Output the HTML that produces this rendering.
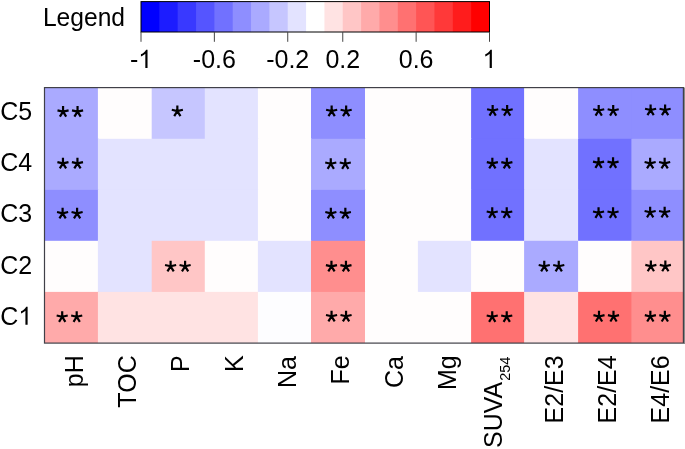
<!DOCTYPE html>
<html><head><meta charset="utf-8"><style>
html,body{margin:0;padding:0;background:#fff;overflow:hidden;}
svg{display:block;will-change:transform;font-family:"Liberation Sans",sans-serif;}
</style></head><body>
<svg width="685" height="449" viewBox="0 0 685 449">
<rect width="685" height="449" fill="#fff"/>

<text transform="translate(42.9,25.8) scale(0.973,1)" font-size="25.3">Legend</text>
<rect x="141.00" y="1.6" width="19.34" height="30.4" fill="#0000FF"/>
<rect x="159.34" y="1.6" width="19.34" height="30.4" fill="#1C1CFF"/>
<rect x="177.68" y="1.6" width="19.34" height="30.4" fill="#3939FF"/>
<rect x="196.03" y="1.6" width="19.34" height="30.4" fill="#5555FF"/>
<rect x="214.37" y="1.6" width="19.34" height="30.4" fill="#7171FF"/>
<rect x="232.71" y="1.6" width="19.34" height="30.4" fill="#8E8EFF"/>
<rect x="251.05" y="1.6" width="19.34" height="30.4" fill="#AAAAFF"/>
<rect x="269.39" y="1.6" width="19.34" height="30.4" fill="#C6C6FF"/>
<rect x="287.74" y="1.6" width="19.34" height="30.4" fill="#E3E3FF"/>
<rect x="306.08" y="1.6" width="19.34" height="30.4" fill="#FFFFFF"/>
<rect x="324.42" y="1.6" width="19.34" height="30.4" fill="#FFE3E3"/>
<rect x="342.76" y="1.6" width="19.34" height="30.4" fill="#FFC6C6"/>
<rect x="361.11" y="1.6" width="19.34" height="30.4" fill="#FFAAAA"/>
<rect x="379.45" y="1.6" width="19.34" height="30.4" fill="#FF8E8E"/>
<rect x="397.79" y="1.6" width="19.34" height="30.4" fill="#FF7171"/>
<rect x="416.13" y="1.6" width="19.34" height="30.4" fill="#FF5555"/>
<rect x="434.47" y="1.6" width="19.34" height="30.4" fill="#FF3939"/>
<rect x="452.82" y="1.6" width="19.34" height="30.4" fill="#FF1C1C"/>
<rect x="471.16" y="1.6" width="18.34" height="30.4" fill="#FF0000"/>
<rect x="141.0" y="1.6" width="348.5" height="30.4" fill="none" stroke="#000" stroke-width="1"/>
<g transform="translate(0,67.95) scale(1,1.03) translate(0,-67.95)">
<text x="129.89" y="67.95" font-size="25">-</text>
<path d="M147.53 67.95L145.33 67.95L145.33 54.16C144.80 54.65 144.11 55.16 143.25 55.65C142.39 56.14 141.62 56.52 140.93 56.77L140.93 54.68C142.17 54.11 143.24 53.41 144.16 52.61C145.07 51.80 145.72 51.01 146.10 50.25L147.53 50.25Z" fill="#000"/>
<text x="214.37" y="67.95" font-size="25" text-anchor="middle">-0.6</text>
<text x="287.74" y="67.95" font-size="25" text-anchor="middle">-0.2</text>
<text x="342.76" y="67.95" font-size="25" text-anchor="middle">0.2</text>
<text x="416.13" y="67.95" font-size="25" text-anchor="middle">0.6</text>
<path d="M491.86 67.95L489.67 67.95L489.67 54.16C489.14 54.65 488.45 55.16 487.59 55.65C486.72 56.14 485.96 56.52 485.27 56.77L485.27 54.68C486.51 54.11 487.58 53.41 488.49 52.61C489.41 51.80 490.06 51.01 490.44 50.25L491.86 50.25Z" fill="#000"/>
</g>
<line x1="141.00" y1="32.0" x2="141.00" y2="41.8" stroke="#444" stroke-width="1"/>
<line x1="214.37" y1="32.0" x2="214.37" y2="41.8" stroke="#444" stroke-width="1"/>
<line x1="287.74" y1="32.0" x2="287.74" y2="41.8" stroke="#444" stroke-width="1"/>
<line x1="342.76" y1="32.0" x2="342.76" y2="41.8" stroke="#444" stroke-width="1"/>
<line x1="416.13" y1="32.0" x2="416.13" y2="41.8" stroke="#444" stroke-width="1"/>
<line x1="489.50" y1="32.0" x2="489.50" y2="41.8" stroke="#444" stroke-width="1"/>
<rect x="45.00" y="88.00" width="53.90" height="51.80" fill="#AAAAFF"/>
<rect x="97.90" y="88.00" width="54.80" height="51.80" fill="#FFFDFD"/>
<rect x="151.70" y="88.00" width="54.10" height="51.80" fill="#C6C6FF"/>
<rect x="204.80" y="88.00" width="54.10" height="51.80" fill="#E3E3FF"/>
<rect x="257.90" y="88.00" width="54.10" height="51.80" fill="#FFFDFD"/>
<rect x="311.00" y="88.00" width="55.00" height="51.80" fill="#8E8EFF"/>
<rect x="365.00" y="88.00" width="53.90" height="51.80" fill="#FFFDFD"/>
<rect x="417.90" y="88.00" width="54.20" height="51.80" fill="#FFFDFD"/>
<rect x="471.10" y="88.00" width="54.00" height="51.80" fill="#7171FF"/>
<rect x="524.10" y="88.00" width="55.00" height="51.80" fill="#FFFDFD"/>
<rect x="578.10" y="88.00" width="54.30" height="51.80" fill="#8E8EFF"/>
<rect x="631.40" y="88.00" width="51.60" height="51.80" fill="#8E8EFF"/>
<rect x="45.00" y="138.80" width="53.90" height="52.10" fill="#AAAAFF"/>
<rect x="97.90" y="138.80" width="54.80" height="52.10" fill="#E3E3FF"/>
<rect x="151.70" y="138.80" width="54.10" height="52.10" fill="#E3E3FF"/>
<rect x="204.80" y="138.80" width="54.10" height="52.10" fill="#E3E3FF"/>
<rect x="257.90" y="138.80" width="54.10" height="52.10" fill="#FFFDFD"/>
<rect x="311.00" y="138.80" width="55.00" height="52.10" fill="#AAAAFF"/>
<rect x="365.00" y="138.80" width="53.90" height="52.10" fill="#FFFDFD"/>
<rect x="417.90" y="138.80" width="54.20" height="52.10" fill="#FFFDFD"/>
<rect x="471.10" y="138.80" width="54.00" height="52.10" fill="#7171FF"/>
<rect x="524.10" y="138.80" width="55.00" height="52.10" fill="#E3E3FF"/>
<rect x="578.10" y="138.80" width="54.30" height="52.10" fill="#7171FF"/>
<rect x="631.40" y="138.80" width="51.60" height="52.10" fill="#AAAAFF"/>
<rect x="45.00" y="189.90" width="53.90" height="51.90" fill="#8E8EFF"/>
<rect x="97.90" y="189.90" width="54.80" height="51.90" fill="#E3E3FF"/>
<rect x="151.70" y="189.90" width="54.10" height="51.90" fill="#E3E3FF"/>
<rect x="204.80" y="189.90" width="54.10" height="51.90" fill="#E3E3FF"/>
<rect x="257.90" y="189.90" width="54.10" height="51.90" fill="#FFFDFD"/>
<rect x="311.00" y="189.90" width="55.00" height="51.90" fill="#8E8EFF"/>
<rect x="365.00" y="189.90" width="53.90" height="51.90" fill="#FFFDFD"/>
<rect x="417.90" y="189.90" width="54.20" height="51.90" fill="#FFFDFD"/>
<rect x="471.10" y="189.90" width="54.00" height="51.90" fill="#7171FF"/>
<rect x="524.10" y="189.90" width="55.00" height="51.90" fill="#E3E3FF"/>
<rect x="578.10" y="189.90" width="54.30" height="51.90" fill="#7171FF"/>
<rect x="631.40" y="189.90" width="51.60" height="51.90" fill="#8E8EFF"/>
<rect x="45.00" y="240.80" width="53.90" height="52.10" fill="#FFFDFD"/>
<rect x="97.90" y="240.80" width="54.80" height="52.10" fill="#E3E3FF"/>
<rect x="151.70" y="240.80" width="54.10" height="52.10" fill="#FFC6C6"/>
<rect x="204.80" y="240.80" width="54.10" height="52.10" fill="#FFFDFD"/>
<rect x="257.90" y="240.80" width="54.10" height="52.10" fill="#E3E3FF"/>
<rect x="311.00" y="240.80" width="55.00" height="52.10" fill="#FF8E8E"/>
<rect x="365.00" y="240.80" width="53.90" height="52.10" fill="#FFFDFD"/>
<rect x="417.90" y="240.80" width="54.20" height="52.10" fill="#E3E3FF"/>
<rect x="471.10" y="240.80" width="54.00" height="52.10" fill="#FFFDFD"/>
<rect x="524.10" y="240.80" width="55.00" height="52.10" fill="#AAAAFF"/>
<rect x="578.10" y="240.80" width="54.30" height="52.10" fill="#FFFDFD"/>
<rect x="631.40" y="240.80" width="51.60" height="52.10" fill="#FFC6C6"/>
<rect x="45.00" y="291.90" width="53.90" height="51.10" fill="#FFAAAA"/>
<rect x="97.90" y="291.90" width="54.80" height="51.10" fill="#FFE3E3"/>
<rect x="151.70" y="291.90" width="54.10" height="51.10" fill="#FFE3E3"/>
<rect x="204.80" y="291.90" width="54.10" height="51.10" fill="#FFE3E3"/>
<rect x="257.90" y="291.90" width="54.10" height="51.10" fill="#FDFDFF"/>
<rect x="311.00" y="291.90" width="55.00" height="51.10" fill="#FFAAAA"/>
<rect x="365.00" y="291.90" width="53.90" height="51.10" fill="#FFFDFD"/>
<rect x="417.90" y="291.90" width="54.20" height="51.10" fill="#FFFDFD"/>
<rect x="471.10" y="291.90" width="54.00" height="51.10" fill="#FF7171"/>
<rect x="524.10" y="291.90" width="55.00" height="51.10" fill="#FFE3E3"/>
<rect x="578.10" y="291.90" width="54.30" height="51.10" fill="#FF7171"/>
<rect x="631.40" y="291.90" width="51.60" height="51.10" fill="#FF8E8E"/>
<g stroke="#000" stroke-width="2.2" fill="none"><path d="M63.05 111.60L63.05 106.00M63.05 111.60L68.60 110.32M63.05 111.60L57.50 110.32M63.05 111.60L66.20 116.65M63.05 111.60L59.90 116.65"/><path d="M77.55 111.60L77.55 106.00M77.55 111.60L83.10 110.32M77.55 111.60L72.00 110.32M77.55 111.60L80.70 116.65M77.55 111.60L74.40 116.65"/><path d="M177.35 111.08L177.35 105.48M177.35 111.08L182.90 109.80M177.35 111.08L171.80 109.80M177.35 111.08L180.50 116.13M177.35 111.08L174.20 116.13"/><path d="M331.65 111.05L331.65 105.45M331.65 111.05L337.20 109.77M331.65 111.05L326.10 109.77M331.65 111.05L334.80 116.10M331.65 111.05L328.50 116.10"/><path d="M346.15 111.05L346.15 105.45M346.15 111.05L351.70 109.77M346.15 111.05L340.60 109.77M346.15 111.05L349.30 116.10M346.15 111.05L343.00 116.10"/><path d="M492.65 110.50L492.65 104.90M492.65 110.50L498.20 109.22M492.65 110.50L487.10 109.22M492.65 110.50L495.80 115.55M492.65 110.50L489.50 115.55"/><path d="M507.15 110.50L507.15 104.90M507.15 110.50L512.70 109.22M507.15 110.50L501.60 109.22M507.15 110.50L510.30 115.55M507.15 110.50L504.00 115.55"/><path d="M598.70 110.50L598.70 104.90M598.70 110.50L604.25 109.22M598.70 110.50L593.15 109.22M598.70 110.50L601.85 115.55M598.70 110.50L595.55 115.55"/><path d="M613.20 110.50L613.20 104.90M613.20 110.50L618.75 109.22M613.20 110.50L607.65 109.22M613.20 110.50L616.35 115.55M613.20 110.50L610.05 115.55"/><path d="M650.60 110.05L650.60 104.45M650.60 110.05L656.15 108.77M650.60 110.05L645.05 108.77M650.60 110.05L653.75 115.10M650.60 110.05L647.45 115.10"/><path d="M665.10 110.05L665.10 104.45M665.10 110.05L670.65 108.77M665.10 110.05L659.55 108.77M665.10 110.05L668.25 115.10M665.10 110.05L661.95 115.10"/><path d="M62.95 163.35L62.95 157.75M62.95 163.35L68.50 162.07M62.95 163.35L57.40 162.07M62.95 163.35L66.10 168.40M62.95 163.35L59.80 168.40"/><path d="M77.45 163.35L77.45 157.75M77.45 163.35L83.00 162.07M77.45 163.35L71.90 162.07M77.45 163.35L80.60 168.40M77.45 163.35L74.30 168.40"/><path d="M330.77 163.75L330.77 158.15M330.77 163.75L336.32 162.47M330.77 163.75L325.22 162.47M330.77 163.75L333.92 168.80M330.77 163.75L327.62 168.80"/><path d="M345.27 163.75L345.27 158.15M345.27 163.75L350.82 162.47M345.27 163.75L339.72 162.47M345.27 163.75L348.42 168.80M345.27 163.75L342.12 168.80"/><path d="M492.35 163.35L492.35 157.75M492.35 163.35L497.90 162.07M492.35 163.35L486.80 162.07M492.35 163.35L495.50 168.40M492.35 163.35L489.20 168.40"/><path d="M506.85 163.35L506.85 157.75M506.85 163.35L512.40 162.07M506.85 163.35L501.30 162.07M506.85 163.35L510.00 168.40M506.85 163.35L503.70 168.40"/><path d="M598.55 162.85L598.55 157.25M598.55 162.85L604.10 161.57M598.55 162.85L593.00 161.57M598.55 162.85L601.70 167.90M598.55 162.85L595.40 167.90"/><path d="M613.05 162.85L613.05 157.25M613.05 162.85L618.60 161.57M613.05 162.85L607.50 161.57M613.05 162.85L616.20 167.90M613.05 162.85L609.90 167.90"/><path d="M650.15 163.33L650.15 157.73M650.15 163.33L655.70 162.05M650.15 163.33L644.60 162.05M650.15 163.33L653.30 168.38M650.15 163.33L647.00 168.38"/><path d="M664.65 163.33L664.65 157.73M664.65 163.33L670.20 162.05M664.65 163.33L659.10 162.05M664.65 163.33L667.80 168.38M664.65 163.33L661.50 168.38"/><path d="M62.60 213.33L62.60 207.73M62.60 213.33L68.15 212.05M62.60 213.33L57.05 212.05M62.60 213.33L65.75 218.38M62.60 213.33L59.45 218.38"/><path d="M77.10 213.33L77.10 207.73M77.10 213.33L82.65 212.05M77.10 213.33L71.55 212.05M77.10 213.33L80.25 218.38M77.10 213.33L73.95 218.38"/><path d="M330.85 213.33L330.85 207.73M330.85 213.33L336.40 212.05M330.85 213.33L325.30 212.05M330.85 213.33L334.00 218.38M330.85 213.33L327.70 218.38"/><path d="M345.35 213.33L345.35 207.73M345.35 213.33L350.90 212.05M345.35 213.33L339.80 212.05M345.35 213.33L348.50 218.38M345.35 213.33L342.20 218.38"/><path d="M492.23 212.75L492.23 207.15M492.23 212.75L497.78 211.47M492.23 212.75L486.68 211.47M492.23 212.75L495.38 217.80M492.23 212.75L489.08 217.80"/><path d="M506.73 212.75L506.73 207.15M506.73 212.75L512.28 211.47M506.73 212.75L501.18 211.47M506.73 212.75L509.88 217.80M506.73 212.75L503.58 217.80"/><path d="M598.55 212.75L598.55 207.15M598.55 212.75L604.10 211.47M598.55 212.75L593.00 211.47M598.55 212.75L601.70 217.80M598.55 212.75L595.40 217.80"/><path d="M613.05 212.75L613.05 207.15M613.05 212.75L618.60 211.47M613.05 212.75L607.50 211.47M613.05 212.75L616.20 217.80M613.05 212.75L609.90 217.80"/><path d="M650.15 212.25L650.15 206.65M650.15 212.25L655.70 210.97M650.15 212.25L644.60 210.97M650.15 212.25L653.30 217.30M650.15 212.25L647.00 217.30"/><path d="M664.65 212.25L664.65 206.65M664.65 212.25L670.20 210.97M664.65 212.25L659.10 210.97M664.65 212.25L667.80 217.30M664.65 212.25L661.50 217.30"/><path d="M170.60 266.30L170.60 260.70M170.60 266.30L176.15 265.02M170.60 266.30L165.05 265.02M170.60 266.30L173.75 271.35M170.60 266.30L167.45 271.35"/><path d="M185.10 266.30L185.10 260.70M185.10 266.30L190.65 265.02M185.10 266.30L179.55 265.02M185.10 266.30L188.25 271.35M185.10 266.30L181.95 271.35"/><path d="M331.45 266.35L331.45 260.75M331.45 266.35L337.00 265.07M331.45 266.35L325.90 265.07M331.45 266.35L334.60 271.40M331.45 266.35L328.30 271.40"/><path d="M345.95 266.35L345.95 260.75M345.95 266.35L351.50 265.07M345.95 266.35L340.40 265.07M345.95 266.35L349.10 271.40M345.95 266.35L342.80 271.40"/><path d="M544.25 266.30L544.25 260.70M544.25 266.30L549.80 265.02M544.25 266.30L538.70 265.02M544.25 266.30L547.40 271.35M544.25 266.30L541.10 271.35"/><path d="M558.75 266.30L558.75 260.70M558.75 266.30L564.30 265.02M558.75 266.30L553.20 265.02M558.75 266.30L561.90 271.35M558.75 266.30L555.60 271.35"/><path d="M650.85 266.20L650.85 260.60M650.85 266.20L656.40 264.92M650.85 266.20L645.30 264.92M650.85 266.20L654.00 271.25M650.85 266.20L647.70 271.25"/><path d="M665.35 266.20L665.35 260.60M665.35 266.20L670.90 264.92M665.35 266.20L659.80 264.92M665.35 266.20L668.50 271.25M665.35 266.20L662.20 271.25"/><path d="M62.20 316.75L62.20 311.15M62.20 316.75L67.75 315.47M62.20 316.75L56.65 315.47M62.20 316.75L65.35 321.80M62.20 316.75L59.05 321.80"/><path d="M76.70 316.75L76.70 311.15M76.70 316.75L82.25 315.47M76.70 316.75L71.15 315.47M76.70 316.75L79.85 321.80M76.70 316.75L73.55 321.80"/><path d="M331.55 316.30L331.55 310.70M331.55 316.30L337.10 315.02M331.55 316.30L326.00 315.02M331.55 316.30L334.70 321.35M331.55 316.30L328.40 321.35"/><path d="M346.05 316.30L346.05 310.70M346.05 316.30L351.60 315.02M346.05 316.30L340.50 315.02M346.05 316.30L349.20 321.35M346.05 316.30L342.90 321.35"/><path d="M492.23 316.75L492.23 311.15M492.23 316.75L497.78 315.47M492.23 316.75L486.68 315.47M492.23 316.75L495.38 321.80M492.23 316.75L489.08 321.80"/><path d="M506.73 316.75L506.73 311.15M506.73 316.75L512.28 315.47M506.73 316.75L501.18 315.47M506.73 316.75L509.88 321.80M506.73 316.75L503.58 321.80"/><path d="M599.00 316.45L599.00 310.85M599.00 316.45L604.55 315.17M599.00 316.45L593.45 315.17M599.00 316.45L602.15 321.50M599.00 316.45L595.85 321.50"/><path d="M613.50 316.45L613.50 310.85M613.50 316.45L619.05 315.17M613.50 316.45L607.95 315.17M613.50 316.45L616.65 321.50M613.50 316.45L610.35 321.50"/><path d="M650.35 316.45L650.35 310.85M650.35 316.45L655.90 315.17M650.35 316.45L644.80 315.17M650.35 316.45L653.50 321.50M650.35 316.45L647.20 321.50"/><path d="M664.85 316.45L664.85 310.85M664.85 316.45L670.40 315.17M664.85 316.45L659.30 315.17M664.85 316.45L668.00 321.50M664.85 316.45L661.70 321.50"/></g>
<rect x="44.5" y="87.6" width="638.90" height="255.50" fill="none" stroke="#404048" stroke-width="1.2"/>
<line x1="684.5" y1="87.5" x2="684.5" y2="344.0" stroke="#888" stroke-width="1"/>
<g transform="translate(0,119.80) scale(1,1.025) translate(0,-119.80)">
<text x="32.2" y="119.80" font-size="25" text-anchor="end">C5</text>
</g>
<g transform="translate(0,171.20) scale(1,1.025) translate(0,-171.20)">
<text x="32.2" y="171.20" font-size="25" text-anchor="end">C4</text>
</g>
<g transform="translate(0,222.45) scale(1,1.025) translate(0,-222.45)">
<text x="32.2" y="222.45" font-size="25" text-anchor="end">C3</text>
</g>
<g transform="translate(0,273.65) scale(1,1.025) translate(0,-273.65)">
<text x="32.2" y="273.65" font-size="25" text-anchor="end">C2</text>
</g>
<g transform="translate(0,324.80) scale(1,1.025) translate(0,-324.80)">
<text x="18.30" y="324.80" font-size="25" text-anchor="end">C</text>
<path d="M27.61 324.80L25.42 324.80L25.42 311.15C24.89 311.64 24.20 312.14 23.34 312.62C22.47 313.11 21.71 313.48 21.02 313.73L21.02 311.66C22.26 311.10 23.33 310.41 24.24 309.61C25.16 308.82 25.81 308.03 26.19 307.28L27.61 307.28Z" fill="#000"/>
</g>
<text transform="translate(82.95,355.30) rotate(-90)" font-size="25" text-anchor="end">pH</text>
<text transform="translate(136.30,355.30) rotate(-90)" font-size="25" text-anchor="end">TOC</text>
<text transform="translate(189.05,355.30) rotate(-90)" font-size="25" text-anchor="end">P</text>
<text transform="translate(242.85,355.30) rotate(-90)" font-size="25" text-anchor="end">K</text>
<text transform="translate(295.95,356.10) rotate(-90)" font-size="25" text-anchor="end">Na</text>
<text transform="translate(348.90,355.30) rotate(-90)" font-size="25" text-anchor="end">Fe</text>
<text transform="translate(402.95,356.10) rotate(-90)" font-size="25" text-anchor="end">Ca</text>
<text transform="translate(456.00,355.30) rotate(-90)" font-size="25" text-anchor="end">Mg</text>
<text transform="translate(501.5,448) rotate(-90)" font-size="25">SUVA<tspan font-size="14.5" dx="1" dy="8.6">254</tspan></text>
<text transform="translate(562.60,355.30) rotate(-90)" font-size="25" text-anchor="end">E2/E3</text>
<text transform="translate(616.25,355.30) rotate(-90)" font-size="25" text-anchor="end">E2/E4</text>
<text transform="translate(668.70,355.30) rotate(-90)" font-size="25" text-anchor="end">E4/E6</text>
</svg></body></html>
